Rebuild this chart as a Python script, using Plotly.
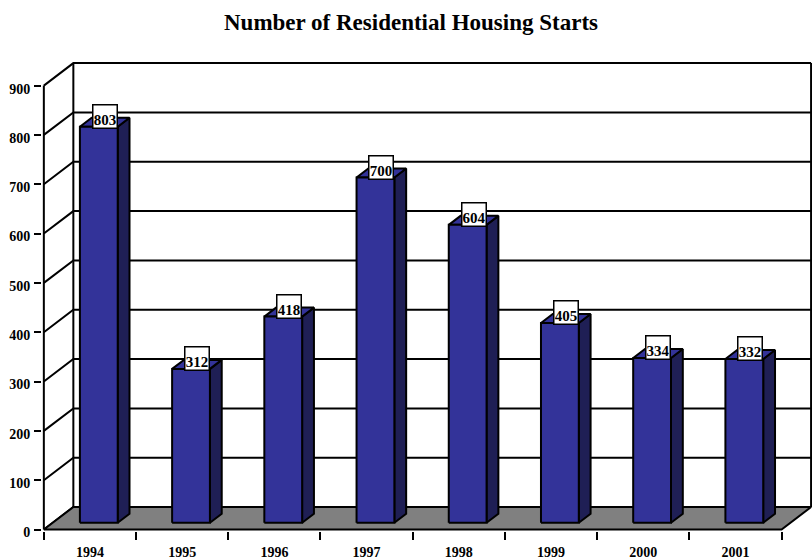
import plotly.graph_objects as go

# ---- data ----
years = ["1994", "1995", "1996", "1997", "1998", "1999", "2000", "2001"]
starts = [803, 312, 418, 700, 604, 405, 334, 332]
y_ticks = [0, 100, 200, 300, 400, 500, 600, 700, 800, 900]

# ---- 3-D geometry (in axis units) ----
OX, OY = 0.32, 45.6          # depth offset of the chart box
FRONT_GAP, BAR_DEPTH = 0.3, 0.4
BAR_W = 0.41
n = len(years)
ymax = y_ticks[-1]

BLUE = "#333399"
SIDE = "#1f1f55"
FLOOR = "#808080"
FONT = "Liberation Serif"

fig = go.Figure()

# walls: gridlines on left wall + back wall, back edges, front axis
wx, wy = [], []
for t in y_ticks:
    wx += [0, OX, n + OX, None]
    wy += [t, t + OY, t + OY, None]
wx += [OX, OX, None, n + OX, n + OX, None, 0, 0, None]
wy += [OY, ymax + OY, None, OY, ymax + OY, None, 0, ymax, None]
fig.add_trace(go.Scatter(x=wx, y=wy, mode="lines",
                         line=dict(color="black", width=2),
                         hoverinfo="skip", showlegend=False))

# floor
fig.add_trace(go.Scatter(x=[0, n, n + OX, OX, 0], y=[0, 0, OY, OY, 0],
                         mode="lines", fill="toself", fillcolor=FLOOR,
                         line=dict(color="black", width=2),
                         hoverinfo="skip", showlegend=False))

# bars
fx, fy, sx, sy, tx, ty = [], [], [], [], [], []
annos = []
dx, dy = BAR_DEPTH * OX, BAR_DEPTH * OY
y0 = FRONT_GAP * OY
for i, v in enumerate(starts):
    x0 = i + 0.5 - BAR_W / 2 + FRONT_GAP * OX
    x1 = x0 + BAR_W
    fx += [x0, x1, x1, x0, x0, None]
    fy += [y0, y0, y0 + v, y0 + v, y0, None]
    sx += [x1, x1 + dx, x1 + dx, x1, x1, None]
    sy += [y0, y0 + dy, y0 + dy + v, y0 + v, y0, None]
    tx += [x0, x1, x1 + dx, x0 + dx, x0, None]
    ty += [y0 + v, y0 + v, y0 + v + dy, y0 + v + dy, y0 + v, None]
    annos.append(dict(x=(x0 + x1) / 2 + dx / 2, y=y0 + v, xref="x", yref="y",
                      text=f"<b>{v}</b>", showarrow=False, yanchor="bottom",
                      xanchor="center", yshift=-2,
                      font=dict(family=FONT, size=15, color="black"),
                      bgcolor="white", bordercolor="black", borderwidth=1.5,
                      borderpad=0, width=23, height=22, valign="bottom"))

for xs, ys, col in [(sx, sy, SIDE), (tx, ty, BLUE), (fx, fy, BLUE)]:
    fig.add_trace(go.Scatter(x=xs, y=ys, mode="lines", fill="toself",
                             fillcolor=col, line=dict(color="black", width=2),
                             hoverinfo="skip", showlegend=False))

fig.update_layout(
    width=812, height=559,
    margin=dict(l=42, r=0, t=56, b=28, autoexpand=False),
    paper_bgcolor="white", plot_bgcolor="white",
    title=dict(text="<b>Number of Residential Housing Starts</b>",
               x=411 / 812, xref="container", xanchor="center",
               y=1 - 22 / 559, yref="container", yanchor="middle",
               automargin=False,
               font=dict(family=FONT, size=23, color="black")),
    annotations=annos,
    xaxis=dict(range=[-0.02, 8.33], showgrid=False, zeroline=False,
               showline=False, automargin=False,
               tickmode="array", tickvals=[i + 0.5 for i in range(n)],
               ticktext=[f"<b>{y}</b>" for y in years], ticks="",
               ticklabelstandoff=11,
               tickfont=dict(family=FONT, size=14, color="black"),
               minor=dict(tickmode="array", tickvals=list(range(n + 1)),
                          ticks="outside", ticklen=8, tickwidth=2,
                          tickcolor="black", showgrid=False)),
    yaxis=dict(range=[-3, 960], showgrid=False, zeroline=False,
               showline=False, automargin=False,
               tickmode="array", tickvals=y_ticks,
               ticktext=[f"<b>{t}</b>" for t in y_ticks],
               ticks="outside", ticklen=7, tickwidth=2, tickcolor="black",
               ticklabelshift=3, ticklabelstandoff=1,
               tickfont=dict(family=FONT, size=14, color="black")),
)

fig.write_html("out.html", config={"displayModeBar": False},
               post_script="document.body.style.margin='0';"
                           "document.body.style.padding='0';")
